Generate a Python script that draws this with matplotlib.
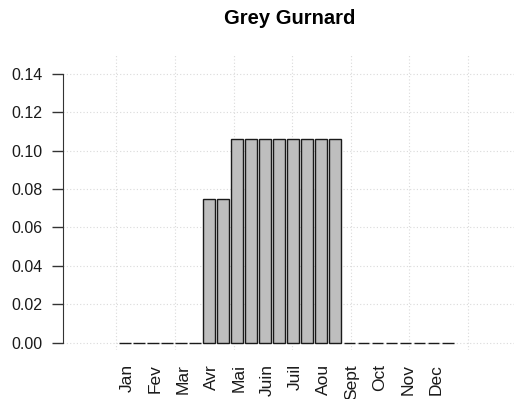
import numpy as np
import matplotlib
matplotlib.use("Agg")
from matplotlib import pyplot as plt

plt.rcParams['font.family'] = ['Liberation Sans', 'DejaVu Sans']

# one value per half month (2 bars per month)
months = ["Jan", "Fev", "Mar", "Avr", "Mai", "Juin", "Juil", "Aou",
          "Sept", "Oct", "Nov", "Dec"]
values = [0, 0, 0, 0, 0, 0,
          0.075, 0.075,
          0.106, 0.106, 0.106, 0.106, 0.106, 0.106, 0.106, 0.106,
          0, 0, 0, 0, 0, 0, 0, 0]
yticks = [0.00, 0.02, 0.04, 0.06, 0.08, 0.10, 0.12, 0.14]
title = "Grey Gurnard"

W, H = 514, 399
fig = plt.figure(figsize=(W / 100, H / 100), dpi=100)
ax = fig.add_axes([63 / W, (H - 350) / H, (W - 63) / W, (350 - 55) / H])

# R barplot style positions: width 1, space 0.2
left = 0.2 + 1.2 * np.arange(len(values))
centers = left + 0.5

# grid (R grid(), dotted light grey)
for gx in range(0, 31, 5):
    ax.axvline(gx, color='#dadada', lw=0.8, ls=(0, (1, 2)), zorder=0)
for gy in yticks:
    ax.axhline(gy, color='#dadada', lw=0.8, ls=(0, (1, 2)), zorder=0)

ax.bar(centers, values, width=1.0, color='#bebebe', edgecolor='#1a1a1a',
       linewidth=1.0, zorder=2)

ax.set_xlim(-4.57, 33.97)
ax.set_ylim(-0.0039, 0.1499)

for s in ['top', 'right', 'bottom']:
    ax.spines[s].set_visible(False)
ax.spines['left'].set_bounds(0, 0.14)
ax.spines['left'].set_color('#333333')

ax.set_yticks(yticks)
ax.set_yticklabels(["%.2f" % v for v in yticks], fontsize=11.5, color='#1a1a1a')
ax.tick_params(axis='y', length=8, width=1, color='#333333', pad=7)

ax.set_xticks(centers[::2] + 0.2)
ax.set_xticklabels(months, rotation=90, fontsize=12.5, color='#1a1a1a')
ax.tick_params(axis='x', length=0, pad=10)

fig.text(290 / W, 1 - 18 / H, title, ha='center', va='center',
         fontsize=14.5, fontweight='bold')

fig.savefig("out.png", dpi=100)
